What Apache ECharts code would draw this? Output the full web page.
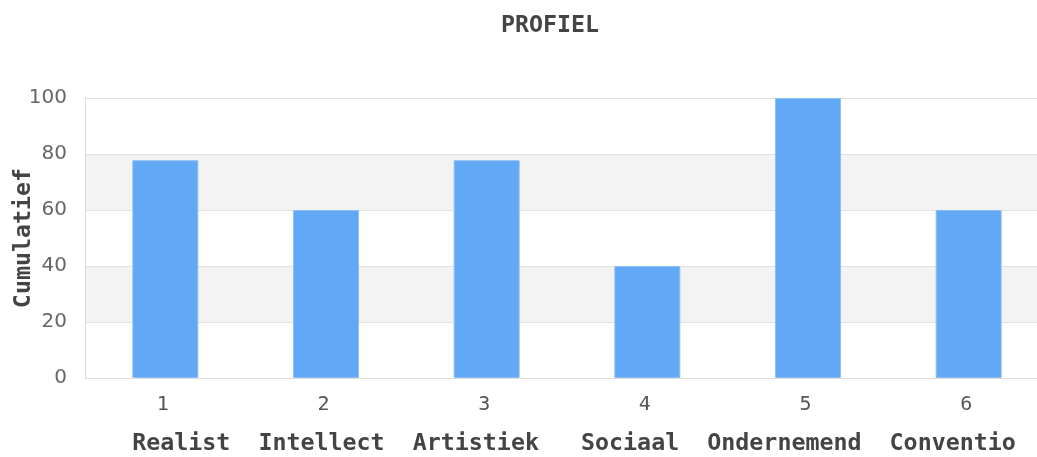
<!DOCTYPE html>
<html>
<head>
<meta charset="utf-8">
<script src="https://cdn.jsdelivr.net/npm/echarts@6/dist/echarts.min.js"></script>
<style>
    html, body { margin: 0; padding: 0; background: #fff; }
    #profielChart { width: 1037px; height: 457px; }
</style>
</head>
<body>
<div id="profielChart"></div>
<script type="text/javascript">
    // categorieen en waarden
    var categories = ['1', '2', '3', '4', '5', '6'];
    var profileNames = ['Realist', 'Intellect', 'Artistiek ', 'Sociaal', 'Ondernemend', 'Conventio'];
    var scores = [77.78, 60, 77.78, 40, 100, 60];
    var yTicks = [0, 20, 40, 60, 80, 100];

    var mono = '"DejaVu Sans Mono", "Liberation Mono", monospace';

    var options = {
        animation: false,
        title: {
            text: 'PROFIEL',
            left: 545,
            textAlign: 'center',
            top: 9,
            textStyle: { fontFamily: mono, fontSize: 23.3, fontWeight: 'bold', color: '#444' }
        },
        grid: {
            left: 85,
            top: 98,
            width: 964,
            bottom: 79,
            containLabel: false,
            outerBoundsMode: 'none'
        },
        xAxis: {
            type: 'category',
            data: categories,
            name: profileNames.join('  '),
            nameLocation: 'middle',
            nameGap: 54,
            nameMoveOverlap: false,
            nameTextStyle: {
                fontFamily: mono, fontSize: 23.3, fontWeight: 'bold', color: '#444',
                padding: [0, 0, 0, 14]
            },
            axisLine: { lineStyle: { color: '#dddddd', width: 1 } },
            axisTick: { show: false },
            axisLabel: {
                fontFamily: mono, fontSize: 20, color: '#555', margin: 17,
                padding: [0, 5, 0, 0]
            }
        },
        yAxis: {
            type: 'value',
            min: yTicks[0],
            max: yTicks[yTicks.length - 1],
            interval: yTicks[1] - yTicks[0],
            name: 'Cumulatief',
            nameLocation: 'middle',
            nameGap: 50,
            nameMoveOverlap: false,
            nameTextStyle: { fontFamily: mono, fontSize: 23.3, fontWeight: 'bold', color: '#444' },
            axisLine: { show: true, lineStyle: { color: '#dddddd', width: 1 } },
            axisTick: { show: false },
            axisLabel: { fontFamily: '"DejaVu Sans", sans-serif', fontSize: 20, color: '#666', margin: 18 },
            splitLine: { lineStyle: { color: '#e2e2e2', width: 1 } },
            splitArea: { show: true, areaStyle: { color: ['#ffffff', '#f3f3f3'] } }
        },
        series: [{
            type: 'bar',
            data: scores,
            barWidth: 66,
            itemStyle: { color: '#62a9f5', borderColor: '#8cbef7', borderWidth: 1 }
        }]
    };

    var profielChart = echarts.init(document.getElementById('profielChart'));
    profielChart.setOption(options);
</script>
</body>
</html>
